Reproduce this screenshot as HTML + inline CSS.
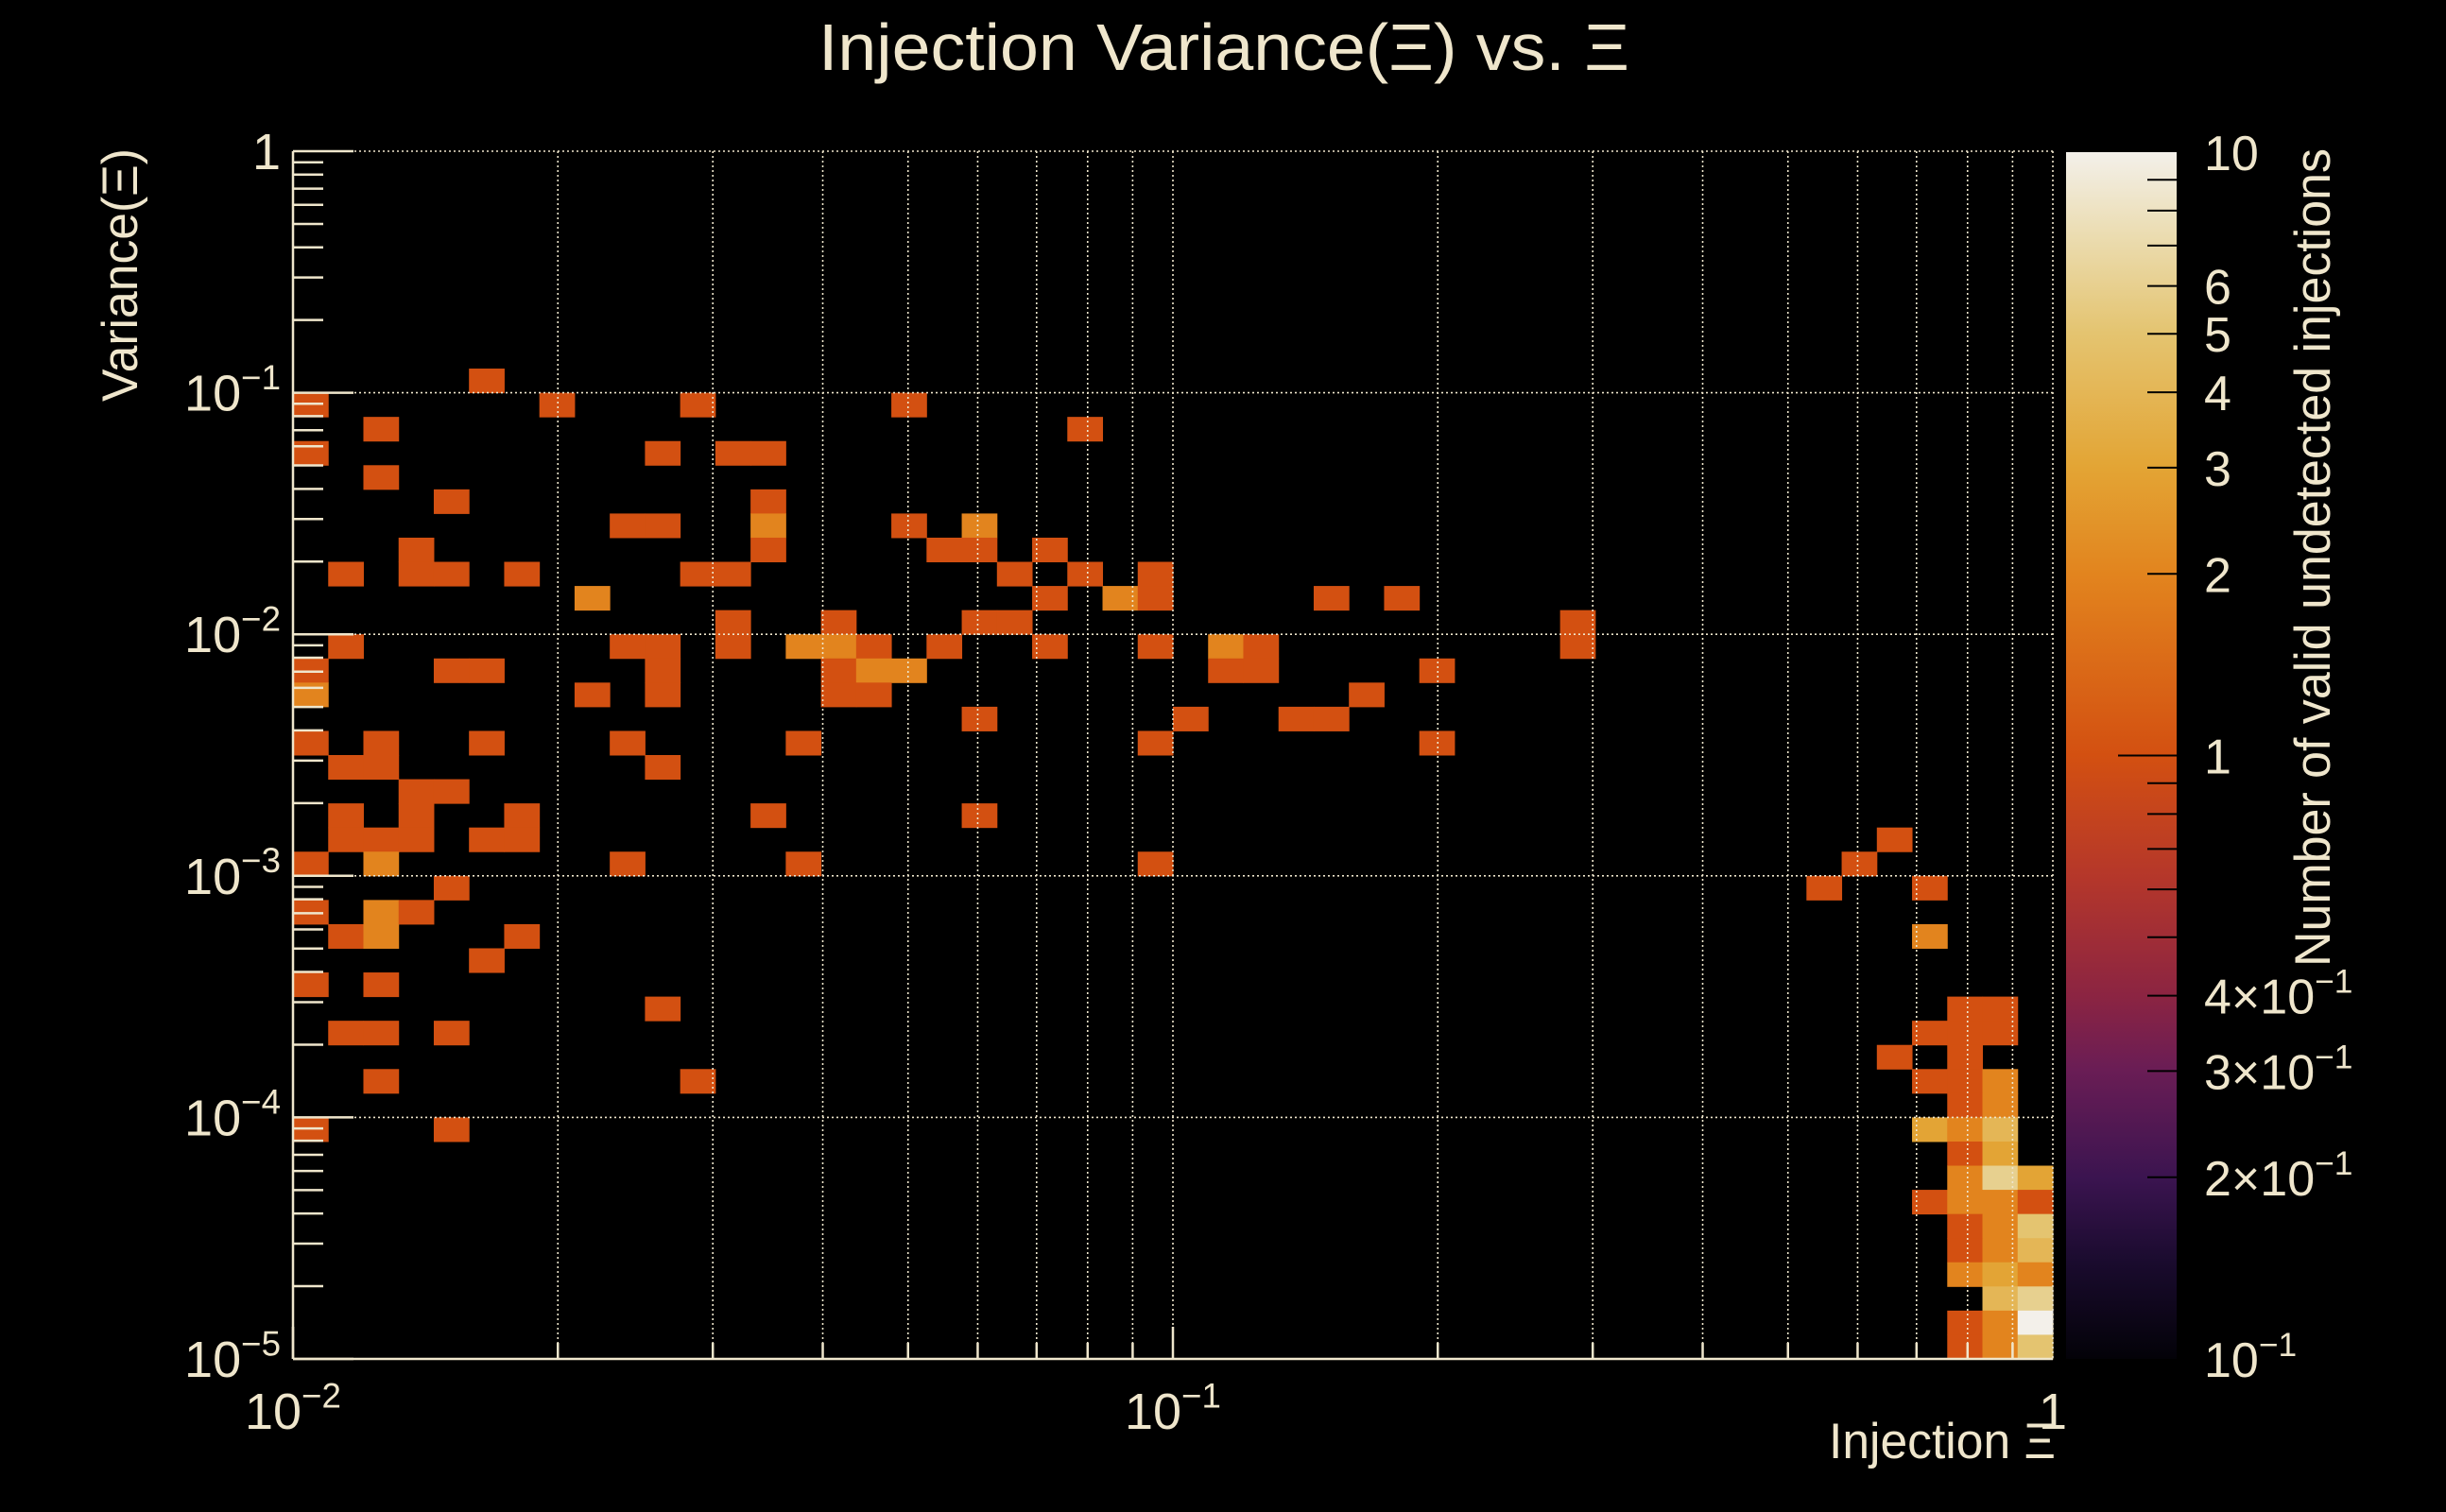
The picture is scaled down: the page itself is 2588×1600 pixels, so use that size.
<!DOCTYPE html>
<html><head><meta charset="utf-8">
<style>
html,body{margin:0;padding:0;background:#000;}
svg{display:block;}
text{font-family:"Liberation Sans",sans-serif;fill:#efe6cc;}
</style></head>
<body>
<svg id="chart" xmlns="http://www.w3.org/2000/svg" width="2588" height="1600" viewBox="0 0 2588 1600">
<rect x="0" y="0" width="2588" height="1600" fill="#000"/>
<defs>
<linearGradient id="cmap" x1="0" y1="1" x2="0" y2="0">
<stop offset="0" stop-color="#030208"/>
<stop offset="0.08" stop-color="#1a0b2e"/>
<stop offset="0.15" stop-color="#3b1450"/>
<stop offset="0.24" stop-color="#6a1d55"/>
<stop offset="0.3" stop-color="#8b2442"/>
<stop offset="0.4" stop-color="#b5372a"/>
<stop offset="0.5" stop-color="#d35011"/>
<stop offset="0.65" stop-color="#e2841e"/>
<stop offset="0.74" stop-color="#e3a535"/>
<stop offset="0.85" stop-color="#e4c470"/>
<stop offset="0.93" stop-color="#ebdcb0"/>
<stop offset="1" stop-color="#f3f0ea"/>
</linearGradient>
</defs>
<g id="cells"></g>
<g id="grid"></g>
<g id="axes"></g>
<rect x="2186" y="161" width="117" height="1277" fill="url(#cmap)"/>
<g id="cbar"></g>
<text x="1295" y="74" font-size="70" text-anchor="middle" textLength="858" lengthAdjust="spacingAndGlyphs">Injection Variance(Ξ) vs. Ξ</text>
<text x="2175" y="1543" font-size="53" text-anchor="end" textLength="240" lengthAdjust="spacingAndGlyphs">Injection Ξ</text>
<text transform="translate(145,157) rotate(-90)" font-size="53" text-anchor="end" textLength="268" lengthAdjust="spacingAndGlyphs">Variance(Ξ)</text>
<text transform="translate(2465,157) rotate(-90)" font-size="53" text-anchor="end" textLength="866" lengthAdjust="spacingAndGlyphs">Number of valid undetected injections</text>
</svg>
<script>
// bin indices (50 log bins per axis); cellRow counted from the top bin
const cellCol = [5,0,7,11,17,2,22,0,10,12,13,2,4,13,9,10,13,17,19,3,13,18,19,21,1,3,4,6,11,12,20,22,24,8,21,23,24,29,31,12,15,19,20,36,1,9,10,12,14,15,16,18,21,24,26,27,36,0,4,5,10,15,16,17,26,27,32,0,8,10,15,16,30,19,25,28,29,0,2,5,9,14,24,32,1,2,10,3,4,1,3,6,13,19,1,2,3,5,6,45,0,2,9,14,24,44,4,43,46,0,2,3,1,2,6,46,5,0,2,10,47,48,1,2,4,46,47,48,45,47,2,11,46,47,48,47,48,0,4,46,47,48,47,48,47,48,49,46,47,48,49,47,48,49,47,48,49,47,48,49,48,49,47,48,49,47,48,49];
const cellRow = [9,10,10,10,10,11,11,12,12,12,12,13,14,14,15,15,15,15,15,16,16,16,16,16,17,17,17,17,17,17,17,17,17,18,18,18,18,18,18,19,19,19,19,19,20,20,20,20,20,20,20,20,20,20,20,20,20,21,21,21,21,21,21,21,21,21,21,22,22,22,22,22,22,23,23,23,23,24,24,24,24,24,24,24,25,25,25,26,26,27,27,27,27,27,28,28,28,28,28,28,29,29,29,29,29,29,30,30,30,31,31,31,32,32,32,32,33,34,34,35,35,35,36,36,36,36,36,36,37,37,38,38,38,38,38,39,39,40,40,40,40,40,41,41,42,42,42,43,43,43,43,44,44,44,45,45,45,46,46,46,47,47,48,48,48,49,49,49];
const cellCount = [1,1,1,1,1,1,1,1,1,1,1,1,1,1,1,1,2,1,2,1,1,1,1,1,1,1,1,1,1,1,1,1,1,2,1,2,1,1,1,1,1,1,1,1,1,1,1,1,2,2,1,1,1,1,2,1,1,1,1,1,1,1,2,2,1,1,1,2,1,1,1,1,1,1,1,1,1,1,1,1,1,1,1,1,1,1,1,1,1,1,1,1,1,1,1,1,1,1,1,1,1,2,1,1,1,1,1,1,1,1,2,1,1,2,1,2,1,1,1,1,1,1,1,1,1,1,1,1,1,1,1,1,1,1,2,1,2,1,1,3,2,4,1,3,2,6,3,1,2,2,1,1,2,5,1,2,4,2,3,2,4,6,1,2,10,1,2,5];
const xTickLabels = ["10","10","1"];
const xTickExp = ["−2","−1",""];
const yTickLabels = ["10","10","10","10","10","1"];
const yTickExp = ["−5","−4","−3","−2","−1",""];
const zTickValues = [0.1,0.2,0.3,0.4,1,2,3,4,5,6,10];
const zTickLabels = ["10","2×10","3×10","4×10","1","2","3","4","5","6","10"];
const zTickExp = ["−1","−1","−1","−1","","","","","","",""];

const NS="http://www.w3.org/2000/svg";
const X0=310,X1=2172,Y0=160,Y1=1438;
const xMinL=-2,xMaxL=0,yMinL=-5,yMaxL=0,NB=50;
const CB0=161,CB1=1438;
function xPos(l){return X0+(l-xMinL)/(xMaxL-xMinL)*(X1-X0);}
function yPos(l){return Y1-(l-yMinL)/(yMaxL-yMinL)*(Y1-Y0);}
function zPos(v){return CB1-(Math.log10(v)+1)/2*(CB1-CB0);}
const stops=[[0,"#030208"],[0.08,"#1a0b2e"],[0.15,"#3b1450"],[0.24,"#6a1d55"],[0.3,"#8b2442"],[0.4,"#b5372a"],[0.5,"#d35011"],[0.65,"#e2841e"],[0.74,"#e3a535"],[0.85,"#e4c470"],[0.93,"#ebdcb0"],[1,"#f3f0ea"]];
function hx(c){return [1,3,5].map(i=>parseInt(c.substr(i,2),16));}
function colorOf(v){
  let t=(Math.log10(v)+1)/2; t=Math.max(0,Math.min(1,t));
  for(let i=1;i<stops.length;i++){ if(t<=stops[i][0]){
    const a=stops[i-1],b=stops[i],f=(t-a[0])/(b[0]-a[0]);
    const ca=hx(a[1]),cb=hx(b[1]);
    return "rgb("+ca.map((x,k)=>Math.round(x+(cb[k]-x)*f)).join(",")+")";}}
  return stops[stops.length-1][1];
}
function mk(tag,attrs,parent){const e=document.createElementNS(NS,tag);for(const k in attrs)e.setAttribute(k,attrs[k]);parent.appendChild(e);return e;}
const gc=document.getElementById("cells");
for(let i=0;i<cellCol.length;i++){
  const lx0=xMinL+cellCol[i]*(xMaxL-xMinL)/NB, lx1=lx0+(xMaxL-xMinL)/NB;
  const rb=NB-1-cellRow[i];
  const ly0=yMinL+rb*(yMaxL-yMinL)/NB, ly1=ly0+(yMaxL-yMinL)/NB;
  const r=mk("rect",{x:xPos(lx0),y:yPos(ly1),width:xPos(lx1)-xPos(lx0)+0.5,height:yPos(ly0)-yPos(ly1)+0.5,fill:colorOf(cellCount[i])},gc);
  
  
}
const gg=document.getElementById("grid");
const gs={stroke:"#efe6cc","stroke-width":1.6,"stroke-dasharray":"2 3"};
for(let d=xMinL;d<xMaxL;d++){for(let m=1;m<=9;m++){const l=d+Math.log10(m);if(l<=xMinL)continue;
  const x=xPos(l);const ln=mk("line",Object.assign({x1:x,x2:x,y1:Y0,y2:Y1},gs),gg);
  
  }}
{const x=xPos(xMaxL);const ln=mk("line",Object.assign({x1:x,x2:x,y1:Y0,y2:Y1},gs),gg);
  
  }
for(let d=yMinL+1;d<=yMaxL;d++){const y=yPos(d);const ln=mk("line",Object.assign({x1:X0,x2:X1,y1:y,y2:y},gs),gg);
  
  }
const ga=document.getElementById("axes");
const as={stroke:"#efe6cc","stroke-width":2.5};
mk("line",Object.assign({x1:X0,x2:X0,y1:Y0,y2:Y1},as),ga);
mk("line",Object.assign({x1:X0,x2:X1,y1:Y1,y2:Y1},as),ga);
for(let d=yMinL;d<yMaxL;d++){for(let m=1;m<=9;m++){const l=d+Math.log10(m);
  const y=yPos(l);mk("line",Object.assign({x1:X0,x2:X0+(m===1?64:32),y1:y,y2:y},as),ga);}}
mk("line",Object.assign({x1:X0,x2:X0+64,y1:Y0,y2:Y0},as),ga);
for(let d=xMinL;d<xMaxL;d++){for(let m=1;m<=9;m++){const l=d+Math.log10(m);
  const x=xPos(l);mk("line",Object.assign({x1:x,x2:x,y1:Y1,y2:Y1-(m===1?34:17)},as),ga);}}
function label(parent,x,y,base,exp,anchor,name,fs){
  const t=mk("text",{x:x,y:y,"font-size":fs,"text-anchor":anchor},parent);
  
  
  t.appendChild(document.createTextNode(base));
  if(exp){const s=mk("tspan",{dy:-fs*0.42,"font-size":fs*0.68},t);s.textContent=exp;}
  return t;
}
for(let i=0;i<xTickLabels.length;i++){
  label(ga,xPos(xMinL+i),1512,xTickLabels[i],xTickExp[i],"middle","x-tick-label",54);
}
for(let i=0;i<yTickLabels.length;i++){
  label(ga,297,yPos(yMinL+i)+19,yTickLabels[i],yTickExp[i],"end","y-tick-label",54);
}
const gb=document.getElementById("cbar");
for(let k=-1;k<1;k++){for(let m=1;m<=9;m++){const v=m*Math.pow(10,k);if(v<=0.1)continue;
  const y=zPos(v);mk("line",{x1:2303-(v===1?62:31),x2:2303,y1:y,y2:y,stroke:"#000","stroke-width":2},gb);}}
for(let i=0;i<zTickValues.length;i++){
  label(gb,2332,zPos(zTickValues[i])+19,zTickLabels[i],zTickExp[i],"start","color-scale-tick-label",52);
}
</script>
</body></html>
